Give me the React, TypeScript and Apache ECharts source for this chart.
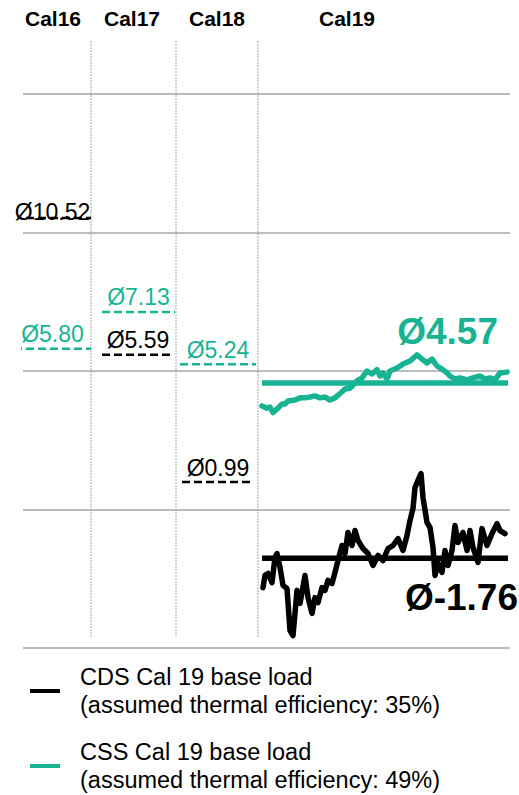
import React, { useEffect, useRef } from "react";
import * as echarts from "echarts";

// ---------- data ----------
const columns = ["Cal16", "Cal17", "Cal18", "Cal19"];
const pastCDS = [10.52, 5.59, 0.99];
const pastCSS = [5.8, 7.13, 5.24];
const cal19CDSAvg = -1.76;
const cal19CSSAvg = 4.57;
const seriesNames = ["CDS Cal 19 base load", "CSS Cal 19 base load"];
const efficiencies = ["35%", "49%"];

const cal19CSSDays = [
  239, 244, 247, 250, 255, 259, 262, 265, 272, 277, 282, 287, 292, 297, 302, 307, 312, 317, 322, 327,
  330, 334, 339, 344, 349, 354, 357, 360, 364, 367, 374, 380, 387, 394, 399, 404, 409, 414, 419, 424,
  427, 432, 437, 444, 450, 457, 462, 467, 472, 477, 484,
];
const cal19CSSValues = [
  3.74, 3.66, 3.7, 3.5, 3.66, 3.81, 3.81, 3.92, 3.95, 4.03, 4.03, 4.06, 4.1, 4.03, 4.06, 3.95, 4.03, 4.19, 4.35, 4.38,
  4.49, 4.64, 4.75, 5.0, 4.89, 5.05, 4.82, 4.93, 4.71, 5.0, 5.11, 5.25, 5.36, 5.58, 5.43, 5.29, 5.43, 5.18, 5.07, 4.93,
  4.82, 4.71, 4.75, 4.68, 4.75, 4.82, 4.71, 4.75, 4.68, 4.93, 4.96,
];

const cal19CDSDays = [
  240, 242, 245, 249, 252, 254, 257, 260, 264, 267, 270, 274, 277, 282, 285, 289, 292, 295, 299, 302,
  305, 309, 312, 315, 319, 322, 325, 329, 332, 335, 340, 345, 350, 355, 360, 365, 370, 375, 380, 384,
  387, 390, 392, 395, 398, 400, 404, 407, 410, 412, 415, 419, 422, 425, 429, 432, 435, 440, 444, 447,
  450, 455, 459, 464, 469, 474, 477, 482,
];
const cal19CDSValues = [
  -2.82, -2.38, -2.31, -2.64, -1.73, -1.59, -2.09, -2.74, -2.85, -4.37, -4.55, -2.92, -3.39, -2.38, -3.18, -3.75, -3.18, -3.36, -2.82, -2.92,
  -2.56, -2.67, -2.27, -1.84, -1.3, -1.59, -0.83, -1.3, -0.76, -1.12, -1.41, -1.59, -2.02, -1.66, -1.84, -1.41, -1.3, -1.05, -1.48, -0.94,
  -0.4, 0.04, 0.79, 1.05, 1.3, 0.43, -0.47, -0.65, -1.37, -2.38, -1.95, -2.27, -1.48, -2.02, -1.48, -0.58, -1.19, -0.83, -1.48, -0.76,
  -1.37, -1.91, -0.69, -1.3, -0.87, -0.51, -0.76, -0.87,
];

// ---------- layout (not data) ----------
const FONT = "'Liberation Sans', Arial, Helvetica, sans-serif";
const GREEN = "#17b393";
const BLACK = "#000000";
const X_MAX = 487;
const headerX = [30, 109, 194, 324];
const dividerX = [68, 153, 235];
const dividerTop = 16.9;
const dividerBottom = -4.64;
const cdsSpans = [[-9, 68], [79, 151], [159, 231]];
const cssSpans = [[-9, 68], [79, 152], [157, 233]];
const cdsLabelDist = [-5, 3, 3];
const cssLabelDist = [3, 3, 3];
const cal19Span = [239, 485];

function dashedAvg(name: string, value: number, span: number[], color: string, dist: number) {
  const mid = (span[0] + span[1]) / 2;
  return {
    name,
    type: "line",
    clip: false,
    silent: true,
    symbol: "circle",
    symbolSize: 0,
    showSymbol: true,
    z: 4,
    lineStyle: { color, width: 2.5, type: [8, 4] },
    itemStyle: { color },
    label: { show: false },
    data: [
      [span[0], value],
      {
        value: [mid, value],
        label: {
          show: true,
          position: "top",
          distance: dist,
          formatter: () => "Ø" + value.toFixed(2),
          fontSize: 23,
          fontFamily: FONT,
          color,
        },
      },
      [span[1], value],
    ],
  };
}

export default function App() {
  const ref = useRef<HTMLDivElement>(null);

  useEffect(() => {
    if (!ref.current) return;
    const chart = echarts.init(ref.current, undefined, { renderer: "svg" });

    const series: any[] = [];

    dividerX.forEach((x, i) => {
      series.push({
        name: "divider" + i,
        type: "line",
        clip: false,
        silent: true,
        showSymbol: false,
        z: 1,
        lineStyle: { color: "#8a8a8a", width: 1, type: [1.5, 1.5] },
        data: [
          [x, dividerTop],
          [x, dividerBottom],
        ],
      });
    });

    pastCSS.forEach((v, i) => series.push(dashedAvg("cssAvg" + i, v, cssSpans[i], GREEN, cssLabelDist[i])));
    pastCDS.forEach((v, i) => series.push(dashedAvg("cdsAvg" + i, v, cdsSpans[i], BLACK, cdsLabelDist[i])));

    series.push({
      name: seriesNames[1],
      type: "line",
      showSymbol: false,
      silent: true,
      z: 5,
      color: GREEN,
      lineStyle: { color: GREEN, width: 5.5, join: "round", cap: "round" },
      data: cal19CSSDays.map((d, i) => [d, cal19CSSValues[i]]),
    });
    series.push({
      name: "cssCal19Avg",
      type: "line",
      silent: true,
      symbol: "circle",
      symbolSize: 0,
      showSymbol: true,
      z: 5,
      lineStyle: { color: GREEN, width: 5.5 },
      itemStyle: { color: GREEN },
      data: [
        [cal19Span[0], cal19CSSAvg],
        {
          value: [cal19Span[1], cal19CSSAvg],
          label: {
            show: true,
            position: "left",
            distance: 0,
            offset: [-10, -51],
            formatter: () => "Ø" + cal19CSSAvg.toFixed(2),
            fontSize: 37,
            fontWeight: "bold",
            fontFamily: FONT,
            color: GREEN,
          },
        },
      ],
    });

    series.push({
      name: seriesNames[0],
      type: "line",
      showSymbol: false,
      silent: true,
      z: 6,
      color: BLACK,
      lineStyle: { color: BLACK, width: 5.5, join: "round", cap: "round" },
      data: cal19CDSDays.map((d, i) => [d, cal19CDSValues[i]]),
    });
    series.push({
      name: "cdsCal19Avg",
      type: "line",
      silent: true,
      symbol: "circle",
      symbolSize: 0,
      showSymbol: true,
      z: 6,
      lineStyle: { color: BLACK, width: 5.5 },
      itemStyle: { color: BLACK },
      data: [
        [cal19Span[0], cal19CDSAvg],
        {
          value: [cal19Span[1], cal19CDSAvg],
          label: {
            show: true,
            position: "left",
            distance: 0,
            offset: [10, 39],
            formatter: () => "Ø" + cal19CDSAvg.toFixed(2),
            fontSize: 37,
            fontWeight: "bold",
            fontFamily: FONT,
            color: BLACK,
          },
        },
      ],
    });

    chart.setOption({
      animation: false,
      textStyle: { fontFamily: FONT },
      grid: { left: 23, right: 9, top: 94, bottom: 147 },
      xAxis: {
        type: "value",
        min: 0,
        max: X_MAX,
        position: "top",
        axisLine: { show: false },
        axisTick: { show: false },
        splitLine: { show: false },
        axisLabel: {
          customValues: headerX,
          formatter: (v: number) => {
            const i = headerX.indexOf(Number(v));
            return i >= 0 ? columns[i] : "";
          },
          margin: 65,
          fontSize: 21,
          fontWeight: "bold",
          fontFamily: FONT,
          color: "#000",
        },
      },
      yAxis: {
        type: "value",
        min: -5,
        max: 15,
        interval: 5,
        axisLabel: { show: false },
        axisLine: { show: false },
        axisTick: { show: false },
        splitLine: { lineStyle: { color: "#a6a6a6", width: 1.5 } },
      },
      legend: {
        data: seriesNames,
        orient: "vertical",
        left: 30,
        top: 663,
        padding: 0,
        itemGap: 19,
        itemWidth: 30,
        itemHeight: 4,
        icon: "rect",
        selectedMode: false,
        formatter: (name: string) =>
          name + "\n(assumed thermal efficiency: " + efficiencies[seriesNames.indexOf(name)] + ")",
        textStyle: { fontSize: 23.5, lineHeight: 28, color: "#000", fontFamily: FONT, padding: [0, 0, 0, 15] },
      },
      series,
    });

    return () => chart.dispose();
  }, []);

  return (
    <div
      ref={ref}
      style={{ position: "fixed", left: 0, top: 0, width: 519, height: 795, background: "#fff" }}
    />
  );
}
